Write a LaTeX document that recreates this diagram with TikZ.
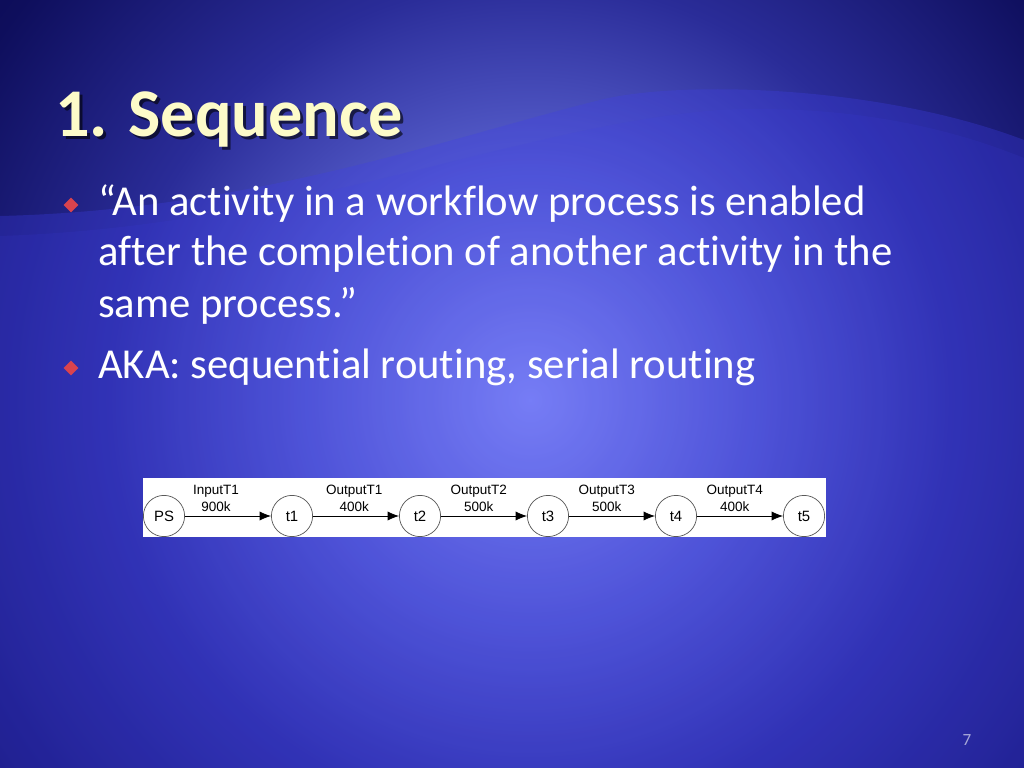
\documentclass[tikz,border=0pt]{standalone}
\usepackage{fontspec}
\setmainfont{Carlito}[Ligatures=NoCommon]
\newfontfamily\diagfont{Liberation Sans}
\usepackage{tikz}
\usetikzlibrary{arrows.meta,positioning,shapes.geometric}
\usepackage{xcolor}

\definecolor{bgcenter}{HTML}{9AA5FF}
\definecolor{bgmid}{HTML}{5A62D0}
\definecolor{bgouter}{HTML}{2A2C98}
\definecolor{bgedge}{HTML}{0E0E5C}
\definecolor{bgcorner}{HTML}{0B0B55}
\definecolor{wavecol}{HTML}{3F3FE8}
\definecolor{titlecol}{HTML}{FDFBC9}
\definecolor{bulletcol}{HTML}{D9434E}
\definecolor{numcol}{HTML}{A8A8D8}

\pgfdeclareradialshading{slideglow}{\pgfpoint{0bp}{0bp}}{color(0bp)=(bgcenter); color(8bp)=(bgmid); color(15bp)=(bgouter); color(23bp)=(bgedge); color(25bp)=(bgcorner); color(50bp)=(bgcorner)}

\tikzset{
  title/.style={anchor=base west,inner sep=0pt,text=titlecol,font=\bfseries\fontsize{48}{56}\selectfont},
  titleshadow/.style={title,text=black,opacity=.6},
  body/.style={anchor=base west,inner sep=0pt,text=white,font=\fontsize{30}{37}\selectfont},
  bullet/.style={diamond,fill=bulletcol,inner sep=0pt,minimum size=10.5pt},
  place/.style={circle,draw=black!65,line width=0.5pt,minimum size=29pt,inner sep=0pt,font=\diagfont\fontsize{10.5}{12}\selectfont},
  lbl/.style={align=center,inner sep=2.5pt}
}

\begin{document}
\begin{tikzpicture}[x=0.703125pt,y=-0.703125pt,>={Latex[length=8pt,width=6.5pt]}]
  \useasboundingbox (0,0) rectangle (1024,768);

  % background
  \begin{scope}
    \clip (0,0) rectangle (1024,768);
    \shade[shading=slideglow] (530,400) circle (700);
    \fill[wavecol,opacity=.3] (0,216) .. controls (250,210) and (440,140) .. (600,100)
      .. controls (680,80) and (880,85) .. (1024,140) -- (1024,768) -- (0,768) -- cycle;
    \fill[wavecol,opacity=.12] (0,236) .. controls (300,226) and (520,125) .. (720,110)
      .. controls (850,104) and (950,128) .. (1024,158) -- (1024,768) -- (0,768) -- cycle;
  \end{scope}

  % title
  \node[titleshadow] at (58,140) {1. Sequence};
  \node[title] (title) at (55,137) {1. Sequence};

  % bullets
  \node[bullet] (b1) at (71,205) {};
  \node[body] (q1) at (98,216) {“An activity in a workflow process is enabled};
  \node[body] (q2) at (98,266) {after the completion of another activity in the};
  \node[body] (q3) at (98,317) {same process.”};
  \node[bullet] (b2) at (71,368) {};
  \node[body] (aka) at (98,378) {AKA: sequential routing, serial routing};

  % sequence diagram
  \fill[white] (143,478) rectangle (826,537);
  \begin{scope}[font=\diagfont\fontsize{9.5}{12}\selectfont,node distance=90pt,on grid,auto]
    \node[place] (PS) at (164,516) {PS};
    \node[place] (t1) [right=of PS] {t1};
    \node[place] (t2) [right=of t1] {t2};
    \node[place] (t3) [right=of t2] {t3};
    \node[place] (t4) [right=of t3] {t4};
    \node[place] (t5) [right=of t4] {t5};

    \path[->,line width=0.6pt]
      (PS) edge node[lbl,pos=.36] {InputT1\\900k}  (t1)
      (t1) edge node[lbl,pos=.48] {OutputT1\\400k} (t2)
      (t2) edge node[lbl,pos=.44] {OutputT2\\500k} (t3)
      (t3) edge node[lbl,pos=.44] {OutputT3\\500k} (t4)
      (t4) edge node[lbl,pos=.44] {OutputT4\\400k} (t5);
  \end{scope}

  % slide number
  \node[text=numcol,font=\fontsize{12}{14}\selectfont] (num) at (967,740) {7};
\end{tikzpicture}
\end{document}
